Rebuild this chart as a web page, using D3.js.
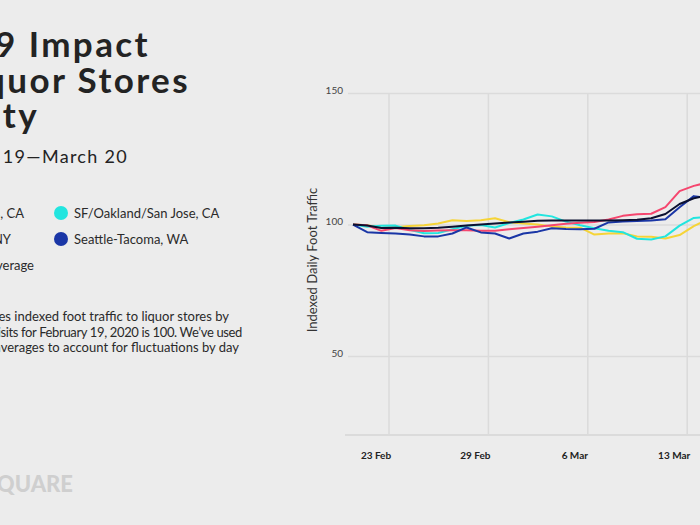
<!DOCTYPE html>
<html>
<head>
<meta charset="utf-8">
<script src="https://cdn.jsdelivr.net/npm/d3@7/dist/d3.min.js"></script>
<style>
  body { margin: 0; background: #ececec; }
  svg { display: block; font-family: Lato, "Noto Sans", sans-serif; }
</style>
</head>
<body>
<script>
// Series names and colours (legend order)
var seriesNames = ["Los Angeles, CA", "New York, NY", "National Average", "SF/Oakland/San Jose, CA", "Seattle-Tacoma, WA"];
var seriesColors = ["#f5466e", "#f6d437", "#0b1030", "#22e5df", "#1a36a6"];

// Indexed daily foot traffic, one value per day from Feb 19
var losAngeles = [100, 99.7, 97.6, 98.7, 97.8, 97.5, 97.7, 97.8, 97.8, 97.6, 97.6, 98.2, 98.7, 99.2, 99.7, 100.3, 100.7, 101.0, 101.9, 103.3, 103.9, 104.1, 106.6, 112.7, 114.7, 116.0];
var newYork = [100, 99.7, 98.8, 99.0, 99.4, 99.7, 100.4, 101.6, 101.3, 101.6, 102.4, 100.9, 100.4, 100.0, 99.3, 98.9, 98.8, 96.2, 96.6, 96.7, 95.5, 95.4, 94.7, 96.0, 99.4, 102.0];
var national = [100, 99.6, 98.7, 98.8, 98.6, 98.6, 98.8, 99.2, 99.6, 100.0, 100.4, 100.8, 101.1, 101.4, 101.5, 101.5, 101.5, 101.5, 101.5, 101.6, 101.8, 102.4, 104.0, 107.8, 110.0, 111.0];
var sfOakland = [100, 99.2, 99.5, 99.6, 98.0, 96.7, 96.8, 98.2, 99.5, 99.8, 98.9, 100.6, 101.9, 103.8, 103.1, 101.1, 99.7, 98.6, 97.6, 97.1, 94.6, 94.3, 95.5, 99.6, 102.5, 102.9];
var seattle = [100, 97.1, 96.8, 96.6, 96.2, 95.5, 95.5, 96.6, 98.9, 97.0, 96.6, 94.7, 96.6, 97.3, 98.6, 98.3, 98.2, 98.4, 100.8, 101.2, 101.3, 101.5, 102.0, 106.6, 110.8, 110.0];

// Axis ticks
var yTicks = [50, 100, 150];
var xGridDays = [2.5, 9.5, 16.5, 23.5];
var xTickLabels = ["23 Feb", "29 Feb", "6 Mar", "13 Mar"];

var noteLines = [
  "This chart compares indexed foot traffic to liquor stores by",
  "city, where visits for February 19, 2020 is 100. We\u2019ve used",
  "7-day moving averages to account for fluctuations by day"
];

window.onload = function () {
  var w = 700, h = 525;

  var svg = d3.select("body").append("svg")
    .attr("width", w)
    .attr("height", h);

  svg.append("rect").attr("width", w).attr("height", h).attr("fill", "#ececec");

  // Title block (the left side of the graphic is cropped)
  var titleLines = [["COVID-19 Impact", 150, 57], ["on Liquor Stores", 190, 93], ["by City", 39, 128]];
  svg.selectAll(".title").data(titleLines).enter().append("text")
    .attr("class", "title")
    .attr("x", function (d) { return d[1]; })
    .attr("y", function (d) { return d[2]; })
    .attr("text-anchor", "end")
    .style("font-size", "35px")
    .style("font-weight", "700")
    .style("letter-spacing", "2.4px")
    .style("fill", "#232323")
    .text(function (d) { return d[0]; });

  svg.append("text")
    .attr("x", 128).attr("y", 163)
    .attr("text-anchor", "end")
    .style("font-size", "18px")
    .style("letter-spacing", "1.3px")
    .style("fill", "#232323")
    .text("February 19\u2014March 20");

  // Legend: three in the first column, two in the second
  var legend = svg.selectAll(".legend").data(seriesNames).enter().append("g")
    .attr("class", "legend")
    .attr("transform", function (d, i) {
      return "translate(0," + (213 + 26 * (i % 3)) + ")";
    });

  legend.append("text")
    .attr("x", function (d, i) { return i < 3 ? [24, 11, 34][i] : 74; })
    .attr("y", 5)
    .attr("text-anchor", function (d, i) { return i < 3 ? "end" : "start"; })
    .style("font-size", "13px")
    .style("fill", "#2a2a2a")
    .text(function (d) { return d; });

  legend.filter(function (d, i) { return i >= 3; }).append("circle")
    .attr("cx", 61).attr("cy", 0).attr("r", 7)
    .attr("fill", function (d) { return seriesColors[seriesNames.indexOf(d)]; });

  // Note text
  var noteEnds = [229, 242, 239];
  var noteSpacing = [0, -0.35, 0];
  svg.selectAll(".note").data(noteLines).enter().append("text")
    .attr("class", "note")
    .attr("x", function (d, i) { return noteEnds[i]; })
    .attr("y", function (d, i) { return 321 + 15.5 * i; })
    .attr("text-anchor", "end")
    .style("font-size", "13px")
    .style("letter-spacing", function (d, i) { return noteSpacing[i] + "px"; })
    .style("fill", "#2a2a2a")
    .text(function (d) { return d; });

  // Logo
  svg.append("text")
    .attr("x", 73).attr("y", 492)
    .attr("text-anchor", "end")
    .style("font-size", "22px")
    .style("font-weight", "900")
    .style("fill", "#cfcfcf")
    .text("FOURSQUARE");

  // Scales
  var x = d3.scaleLinear().domain([0, 30]).range([353, 779]);
  var y = d3.scaleLinear().domain([20, 150]).range([435, 93]);

  var plotLeft = 348, plotRight = 800;

  // Horizontal gridlines + y labels
  var yAxis = d3.axisLeft(y)
    .tickValues(yTicks)
    .tickSize(-(plotRight - plotLeft))
    .tickPadding(5);

  var gy = svg.append("g")
    .attr("transform", "translate(" + plotLeft + ",0)")
    .call(yAxis);
  gy.select(".domain").remove();
  gy.selectAll(".tick line").attr("stroke", "#dbdbdb").attr("stroke-width", 1.5);
  gy.selectAll(".tick text")
    .attr("dy", "0")
    .attr("y", 0)
    .style("font-family", "Lato, sans-serif")
    .style("font-size", "10px")
    .style("fill", "#444");

  // Vertical gridlines + x labels
  var xAxis = d3.axisBottom(x)
    .tickValues(xGridDays)
    .tickSize(-(435 - 93))
    .tickFormat(function (d, i) { return xTickLabels[i]; });

  var gx = svg.append("g")
    .attr("transform", "translate(0,435)")
    .call(xAxis);
  gx.select(".domain").remove();
  gx.selectAll(".tick line").attr("stroke", "#dbdbdb").attr("stroke-width", 1.5);
  gx.selectAll(".tick text")
    .attr("x", -13)
    .attr("y", 17)
    .style("font-family", "Lato, sans-serif")
    .style("font-size", "10px")
    .style("font-weight", "700")
    .style("fill", "#222");

  // Baseline
  svg.append("line")
    .attr("x1", plotLeft - 3).attr("x2", plotRight)
    .attr("y1", y(20)).attr("y2", y(20))
    .attr("stroke", "#dbdbdb").attr("stroke-width", 2);

  // Y axis title
  svg.append("text")
    .attr("transform", "translate(317," + 260 + ") rotate(-90)")
    .attr("text-anchor", "middle")
    .style("font-size", "13px")
    .style("fill", "#333")
    .text("Indexed Daily Foot Traffic");

  // Lines
  var line = d3.line()
    .x(function (d, i) { return x(i); })
    .y(function (d) { return y(d); });

  var drawOrder = [
    [newYork, seriesColors[1]],
    [sfOakland, seriesColors[3]],
    [losAngeles, seriesColors[0]],
    [seattle, seriesColors[4]],
    [national, seriesColors[2]]
  ];

  svg.selectAll(".series").data(drawOrder).enter().append("path")
    .attr("class", "series")
    .attr("d", function (d) { return line(d[0]); })
    .attr("fill", "none")
    .attr("stroke", function (d) { return d[1]; })
    .attr("stroke-width", 2)
    .attr("stroke-linejoin", "round");
};
</script>
</body>
</html>
